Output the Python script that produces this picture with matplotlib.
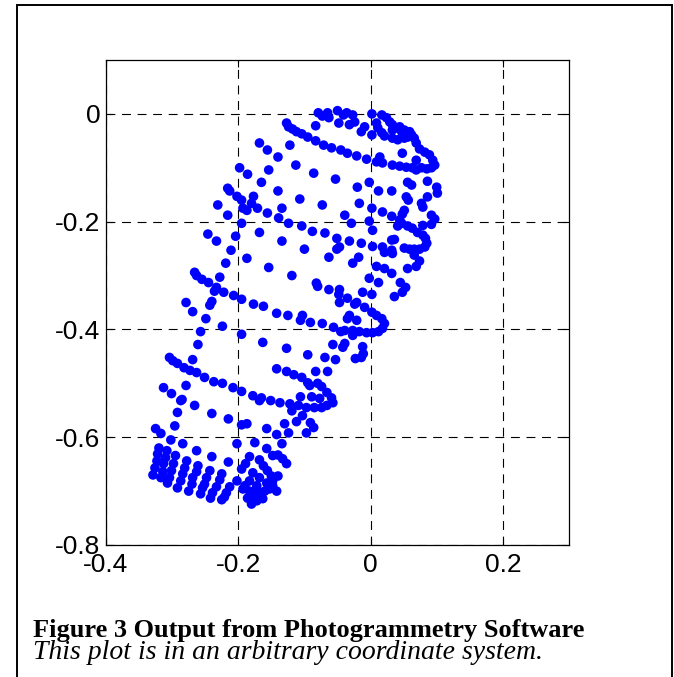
import numpy as np
import matplotlib.pyplot as plt
from matplotlib.patches import Rectangle

# reconstructed target points (x, y), arbitrary units, grouped by region of the object
top_band = [
    (-0.198, -0.100), (-0.216, -0.138), (-0.213, -0.143), (-0.202, -0.153),
    (-0.195, -0.160), (-0.231, -0.169),
    (-0.079, 0.002), (-0.065, 0.002), (-0.050, 0.006), (-0.041, -0.002),
    (-0.073, -0.004), (-0.063, -0.007), (-0.048, -0.017), (-0.083, -0.022),
    (-0.127, -0.017), (-0.124, -0.024), (-0.118, -0.028), (-0.112, -0.033),
    (-0.104, -0.037), (-0.095, -0.043), (-0.083, -0.050), (-0.071, -0.058),
    (-0.059, -0.063), (-0.045, -0.067), (-0.168, -0.054), (-0.156, -0.067),
    (-0.122, -0.058), (-0.140, -0.080), (-0.113, -0.095), (-0.154, -0.104),
    (-0.086, -0.110), (-0.053, -0.121), (-0.186, -0.112), (-0.165, -0.127),
    (-0.140, -0.143), (-0.177, -0.153), (-0.180, -0.166), (-0.107, -0.158),
    (-0.073, -0.169),
]

upper_loop = [
    (-0.036, 0.002), (-0.027, -0.002), (0.002, 0.000), (0.017, -0.002),
    (0.024, -0.007), (0.029, -0.015), (0.033, -0.020), (0.009, -0.017),
    (0.011, -0.026), (0.017, -0.035), (0.021, -0.041), (0.033, -0.045),
    (0.041, -0.048), (0.051, -0.045), (0.056, -0.043), (0.062, -0.039),
    (0.066, -0.045), (0.039, -0.026), (0.047, -0.033), (0.054, -0.035),
    (0.033, -0.030), (0.044, -0.024), (0.051, -0.030), (0.059, -0.033),
    (0.069, -0.054), (0.074, -0.065), (0.082, -0.071), (0.089, -0.076),
    (0.094, -0.086), (0.097, -0.095), (0.092, -0.100), (0.085, -0.102),
    (0.077, -0.100), (0.069, -0.104), (0.063, -0.100), (0.054, -0.099),
    (0.044, -0.097), (0.033, -0.095), (0.018, -0.091), (0.009, -0.089),
    (0.069, -0.086), (0.048, -0.073), (0.002, -0.039), (-0.014, -0.033),
    (-0.009, -0.024), (-0.024, -0.015), (-0.032, -0.020), (-0.035, -0.073),
    (-0.021, -0.078), (-0.006, -0.084), (0.014, -0.080), (-0.002, -0.127),
    (-0.020, -0.136), (0.012, -0.143), (0.032, -0.143), (0.056, -0.127),
    (0.062, -0.132), (0.086, -0.125), (0.100, -0.136), (0.101, -0.147),
    (0.086, -0.154), (0.054, -0.154), (0.057, -0.160), (-0.017, -0.166),
    (0.077, -0.166),
]

left_band = [
    (-0.216, -0.188), (-0.195, -0.203), (-0.246, -0.223), (-0.233, -0.236),
    (-0.204, -0.227), (-0.211, -0.253), (-0.219, -0.277), (-0.266, -0.294),
    (-0.263, -0.300), (-0.255, -0.307), (-0.245, -0.313), (-0.228, -0.303),
    (-0.233, -0.322), (-0.236, -0.329), (-0.222, -0.331), (-0.207, -0.337),
    (-0.195, -0.344), (-0.279, -0.350), (-0.240, -0.348),
    (-0.193, -0.175), (-0.187, -0.179), (-0.171, -0.175), (-0.156, -0.184),
    (-0.134, -0.175), (-0.139, -0.193), (-0.124, -0.203), (-0.104, -0.208),
    (-0.088, -0.218), (-0.069, -0.221), (-0.051, -0.231), (-0.051, -0.251),
    (-0.063, -0.266), (-0.039, -0.188), (-0.168, -0.220), (-0.134, -0.236),
    (-0.100, -0.251), (-0.187, -0.268), (-0.154, -0.285), (-0.119, -0.300),
    (-0.082, -0.314), (-0.080, -0.320), (-0.063, -0.326), (-0.047, -0.326),
    (-0.048, -0.335), (-0.177, -0.353), (-0.162, -0.357),
]

middle_loop = [
    (0.002, -0.175), (0.018, -0.182), (0.032, -0.190), (0.051, -0.179),
    (0.048, -0.186), (0.079, -0.173), (0.092, -0.188), (0.097, -0.195),
    (0.092, -0.205), (0.079, -0.207), (-0.029, -0.203), (-0.002, -0.199),
    (0.003, -0.216), (0.044, -0.197), (0.041, -0.208), (0.047, -0.203),
    (0.056, -0.208), (0.063, -0.212), (0.071, -0.220), (0.079, -0.225),
    (0.083, -0.231), (0.085, -0.240), (0.082, -0.247), (0.074, -0.251),
    (0.066, -0.251), (0.059, -0.251), (0.051, -0.249), (0.032, -0.234),
    (0.036, -0.233), (0.018, -0.247), (0.021, -0.257), (0.032, -0.253),
    (0.033, -0.259), (0.066, -0.262), (0.003, -0.246), (-0.014, -0.240),
    (-0.032, -0.236), (-0.047, -0.247), (-0.018, -0.266), (-0.027, -0.277),
    (0.074, -0.273), (0.069, -0.283), (0.056, -0.287), (0.009, -0.283),
    (0.021, -0.287), (0.032, -0.296), (-0.002, -0.305), (0.012, -0.313),
    (0.045, -0.313), (0.053, -0.322), (0.048, -0.331), (0.036, -0.339),
    (-0.012, -0.331), (-0.035, -0.342), (-0.021, -0.350), (0.002, -0.335),
]

lower_band = [
    (-0.269, -0.367), (-0.243, -0.355), (-0.249, -0.380), (-0.224, -0.394),
    (-0.257, -0.404), (-0.195, -0.409), (-0.261, -0.428), (-0.269, -0.456),
    (-0.304, -0.452), (-0.299, -0.458), (-0.292, -0.463), (-0.282, -0.471),
    (-0.273, -0.476), (-0.263, -0.480), (-0.251, -0.489), (-0.237, -0.497),
    (-0.224, -0.500), (-0.208, -0.508), (-0.195, -0.515), (-0.313, -0.508),
    (-0.301, -0.519), (-0.279, -0.504), (-0.285, -0.530), (-0.266, -0.541),
    (-0.142, -0.370), (-0.125, -0.374), (-0.103, -0.374), (-0.106, -0.383),
    (-0.091, -0.387), (-0.073, -0.389), (-0.056, -0.396), (-0.045, -0.404),
    (-0.163, -0.424), (-0.127, -0.435), (-0.095, -0.447), (-0.069, -0.452),
    (-0.053, -0.456), (-0.057, -0.428), (-0.042, -0.433), (-0.083, -0.478),
    (-0.065, -0.478), (-0.142, -0.473), (-0.127, -0.478), (-0.116, -0.484),
    (-0.104, -0.489), (-0.095, -0.499), (-0.092, -0.504), (-0.080, -0.500),
    (-0.074, -0.506), (-0.066, -0.517), (-0.059, -0.527), (-0.057, -0.536),
    (-0.178, -0.523), (-0.165, -0.527), (-0.151, -0.532), (-0.137, -0.536),
    (-0.122, -0.538), (-0.106, -0.525), (-0.089, -0.525), (-0.077, -0.528),
]

lower_loop = [
    (-0.047, -0.350), (-0.024, -0.353), (-0.009, -0.359), (0.002, -0.368),
    (0.009, -0.374), (0.017, -0.380), (0.021, -0.389), (0.018, -0.398),
    (0.012, -0.404), (0.003, -0.406), (-0.006, -0.406), (-0.017, -0.404),
    (-0.027, -0.402), (-0.039, -0.402), (-0.032, -0.374), (-0.035, -0.380),
    (-0.021, -0.383), (-0.027, -0.411), (-0.039, -0.426), (-0.012, -0.432),
    (-0.011, -0.445), (-0.014, -0.452), (-0.023, -0.454),
]

base_grid = [
    (-0.287, -0.532), (-0.292, -0.554), (-0.240, -0.556), (-0.215, -0.566),
    (-0.195, -0.577), (-0.296, -0.579), (-0.325, -0.584), (-0.317, -0.593),
    (-0.302, -0.605), (-0.284, -0.612), (-0.263, -0.625), (-0.240, -0.636),
    (-0.215, -0.646), (-0.202, -0.612),
    (-0.320, -0.620), (-0.322, -0.631), (-0.323, -0.644), (-0.326, -0.657),
    (-0.329, -0.670), (-0.308, -0.625), (-0.310, -0.638), (-0.313, -0.649),
    (-0.314, -0.664), (-0.317, -0.675), (-0.295, -0.634), (-0.298, -0.649),
    (-0.301, -0.662), (-0.304, -0.675), (-0.307, -0.685), (-0.292, -0.694),
    (-0.278, -0.644), (-0.281, -0.657), (-0.284, -0.668), (-0.287, -0.681),
    (-0.275, -0.700), (-0.261, -0.653), (-0.263, -0.664), (-0.269, -0.675),
    (-0.270, -0.687), (-0.243, -0.662), (-0.248, -0.675), (-0.251, -0.687),
    (-0.254, -0.694), (-0.257, -0.705), (-0.225, -0.668), (-0.228, -0.679),
    (-0.233, -0.692), (-0.239, -0.703), (-0.242, -0.713), (-0.225, -0.716),
    (-0.202, -0.681), (-0.213, -0.692), (-0.218, -0.703), (-0.221, -0.711),
    (-0.193, -0.696),
]

base_cluster = [
    (-0.168, -0.532), (-0.109, -0.541), (-0.097, -0.545), (-0.085, -0.545),
    (-0.074, -0.545), (-0.066, -0.541), (-0.119, -0.551), (-0.103, -0.560),
    (-0.112, -0.571), (-0.130, -0.575), (-0.091, -0.573), (-0.086, -0.582),
    (-0.097, -0.592), (-0.124, -0.592), (-0.142, -0.595), (-0.157, -0.584),
    (-0.187, -0.575), (-0.175, -0.610), (-0.134, -0.612), (-0.157, -0.621),
    (-0.148, -0.634), (-0.140, -0.633), (-0.133, -0.640), (-0.127, -0.649),
    (-0.183, -0.636), (-0.189, -0.649), (-0.168, -0.642), (-0.195, -0.659),
    (-0.178, -0.666), (-0.162, -0.653), (-0.156, -0.662), (-0.150, -0.672),
    (-0.168, -0.675), (-0.183, -0.681), (-0.190, -0.690), (-0.172, -0.690),
    (-0.157, -0.685), (-0.148, -0.681), (-0.140, -0.672), (-0.153, -0.696),
    (-0.168, -0.703), (-0.178, -0.709), (-0.186, -0.713), (-0.163, -0.714),
    (-0.172, -0.718), (-0.180, -0.724), (-0.148, -0.690), (-0.142, -0.700),
    (-0.175, -0.700), (-0.160, -0.700), (-0.183, -0.700),
]

groups = [top_band, upper_loop, left_band, middle_loop,
          lower_band, lower_loop, base_grid, base_cluster]
pts = np.array([p for g in groups for p in g])

x_ticks = [-0.4, -0.2, 0, 0.2]
x_labels = ["-0.4", "-0.2", "0", "0.2"]
y_ticks = [-0.8, -0.6, -0.4, -0.2, 0]
y_labels = ["-0.8", "-0.6", "-0.4", "-0.2", "0"]

caption_title = "Figure 3 Output from Photogrammetry Software"
caption_note = "This plot is in an arbitrary coordinate system."

fig = plt.figure(figsize=(6.74, 6.77), dpi=100)
fig.patch.set_facecolor("white")

# page frame around the figure
fig.patches.append(Rectangle((17 / 674, -0.01), 655 / 674, 1 - 5 / 677 + 0.01,
                             transform=fig.transFigure, fill=False,
                             edgecolor="black", lw=1.4))

ax = fig.add_axes([106 / 674, 1 - 545 / 677, 463 / 674, 485 / 677])
ax.scatter(pts[:, 0], pts[:, 1], s=48, color="#0000ff", edgecolors="none", zorder=3)

ax.set_xlim(-0.4, 0.3)
ax.set_ylim(-0.8, 0.1)
ax.set_xticks(x_ticks)
ax.set_xticklabels(x_labels)
ax.set_yticks(y_ticks)
ax.set_yticklabels(y_labels)
ax.grid(True, color="black", ls=(0, (8, 6)), lw=0.8)
ax.set_axisbelow(True)
ax.tick_params(direction="in", length=5, width=0.8, top=True, right=True,
               labelsize=19)
ax.tick_params(axis="y", pad=4)
ax.tick_params(axis="x", pad=6)
for lab in ax.get_xticklabels() + ax.get_yticklabels():
    lab.set_family("Liberation Sans")
for s in ax.spines.values():
    s.set_linewidth(0.9)

fig.text(33 / 674, 1 - 637 / 677, caption_title, family="Liberation Serif",
         weight="bold", size=19, va="baseline", ha="left")
fig.text(33 / 674, 1 - 659 / 677, caption_note, family="Liberation Serif",
         style="italic", size=20, va="baseline", ha="left")

fig.savefig("out.png", dpi=100)
